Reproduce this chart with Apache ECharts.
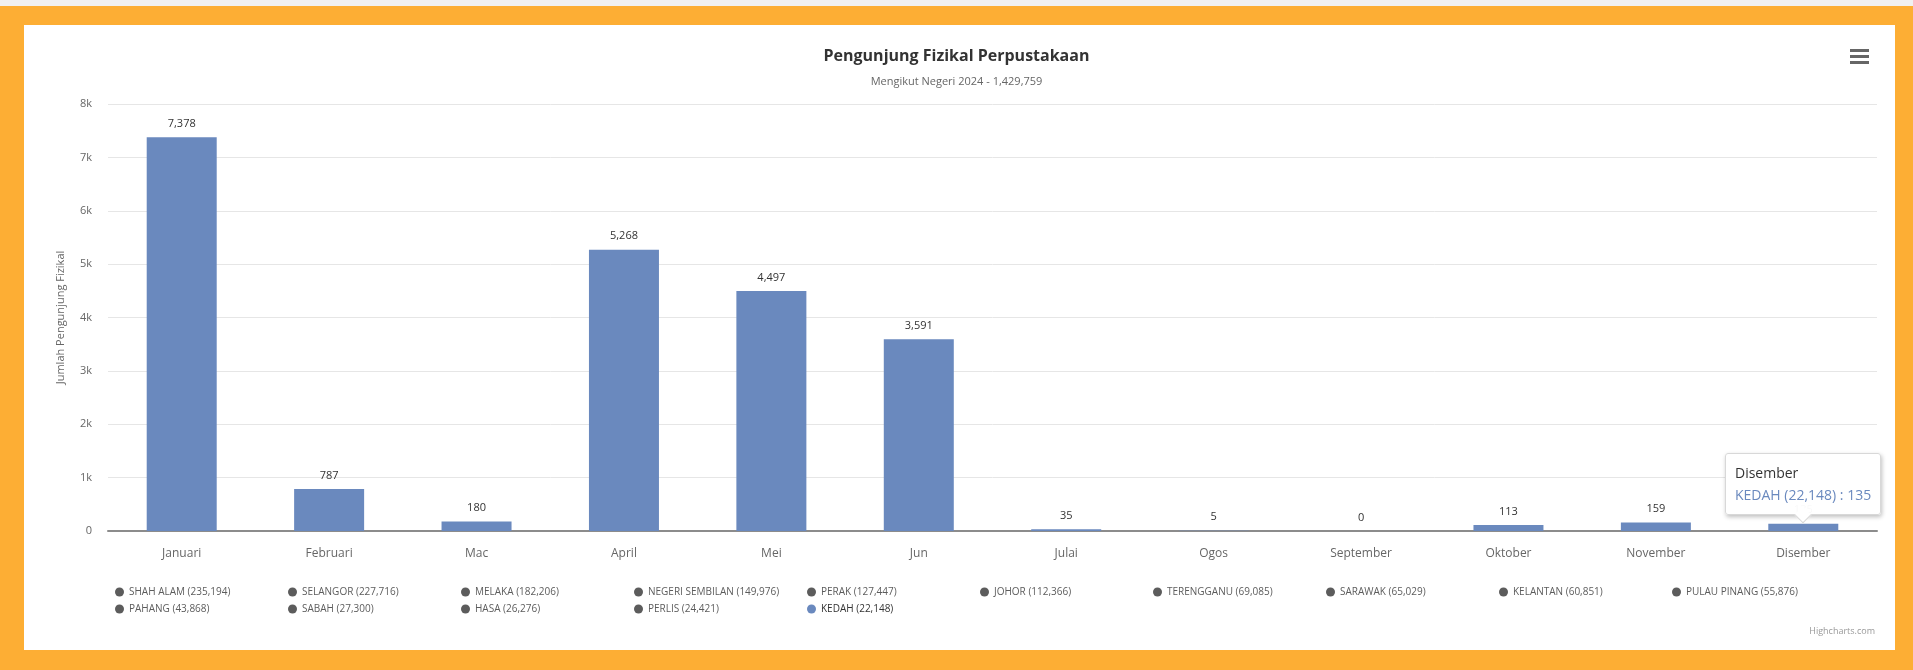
<!DOCTYPE html>
<html>
<head>
<meta charset="utf-8">
<script src="https://cdn.jsdelivr.net/npm/echarts@6/dist/echarts.min.js"></script>
<style>
  html, body { margin: 0; padding: 0; width: 1913px; height: 670px; overflow: hidden; background: #fdae34; }
  .strip { position: absolute; left: 0; top: 0; width: 1913px; height: 6px; background: #f1f1f1; }
  .panel { position: absolute; left: 24px; top: 25px; width: 1871px; height: 625px; background: #fff; }
  #chart { position: absolute; left: 0; top: 0; width: 1913px; height: 670px; }
</style>
</head>
<body>
<div class="strip"></div>
<div class="panel"></div>
<div id="chart"></div>
<script>
// data
const months = ['Januari', 'Februari', 'Mac', 'April', 'Mei', 'Jun', 'Julai', 'Ogos', 'September', 'Oktober', 'November', 'Disember']
const kedahValues = [7378, 787, 180, 5268, 4497, 3591, 35, 5, 0, 113, 159, 135]
const yTicks = [0, 1000, 2000, 3000, 4000, 5000, 6000, 7000, 8000]

// legend rows (state names with totals); only KEDAH is switched on
const legendRow1 = ['SHAH ALAM (235,194)', 'SELANGOR (227,716)', 'MELAKA (182,206)', 'NEGERI SEMBILAN (149,976)', 'PERAK (127,447)',
  'JOHOR (112,366)', 'TERENGGANU (69,085)', 'SARAWAK (65,029)', 'KELANTAN (60,851)', 'PULAU PINANG (55,876)']
const legendRow2 = ['PAHANG (43,868)', 'SABAH (27,300)', 'HASA (26,276)', 'PERLIS (24,421)', 'KEDAH (22,148)']
const activeSeries = 'KEDAH (22,148)'

const barColor = '#6a89be'
const fmt = v => v.toLocaleString('en-US')

const chart = echarts.init(document.getElementById('chart'))

const allNames = legendRow1.concat(legendRow2)
const series = allNames.map(name => ({
  name: name,
  type: 'bar',
  data: name === activeSeries ? kedahValues : [],
  barWidth: 70,
  itemStyle: { color: barColor },
  label: {
    show: true,
    position: 'top',
    distance: 8,
    fontSize: 11,
    color: '#333',
    fontFamily: 'Open Sans',
    formatter: p => fmt(p.value)
  }
}))

// one small legend per column so the columns line up like the original
const legends = legendRow1.map((n, i) => {
  const data = [n]
  if (legendRow2[i]) data.push(legendRow2[i])
  const selected = {}
  data.forEach(d => { selected[d] = d === activeSeries })
  return {
    orient: 'vertical',
    left: 110 + i * 173,
    top: 581,
    itemWidth: 9,
    itemHeight: 9,
    itemGap: 5,
    itemTextGap: 18,
    icon: 'circle',
    data: data,
    selected: selected,
    inactiveColor: '#5c5c5c',
    textStyle: { fontSize: 10, color: '#333', fontFamily: 'Open Sans', lineHeight: 12 }
  }
})

chart.setOption({
  animation: false,
  textStyle: { fontFamily: 'Open Sans' },
  title: [
    {
      text: 'Pengunjung Fizikal Perpustakaan',
      left: 'center',
      top: 43,
      textStyle: { fontSize: 16, fontWeight: 'bold', color: '#333', fontFamily: 'Open Sans' }
    },
    {
      text: 'Mengikut Negeri 2024 - 1,429,759',
      left: 'center',
      top: 71,
      textStyle: { fontSize: 11, fontWeight: 'normal', color: '#666', fontFamily: 'Open Sans' }
    }
  ],
  legend: legends,
  grid: { left: 108, right: 36, top: 104, bottom: 139, containLabel: false },
  xAxis: {
    type: 'category',
    data: months,
    axisLine: { lineStyle: { color: '#8c8c8c', width: 2 } },
    axisTick: { show: false },
    axisLabel: { color: '#666', fontSize: 12, margin: 17 }
  },
  yAxis: {
    type: 'value',
    min: yTicks[0],
    max: yTicks[yTicks.length - 1],
    interval: yTicks[1] - yTicks[0],
    name: 'Jumlah Pengunjung Fizikal',
    nameLocation: 'middle',
    nameGap: 42,
    nameTextStyle: { color: '#666', fontSize: 11 },
    axisLabel: { color: '#666', fontSize: 11, margin: 16, formatter: v => v === 0 ? '0' : v / 1000 + 'k' },
    splitLine: { lineStyle: { color: '#e6e6e6' } }
  },
  tooltip: {
    trigger: 'item',
    alwaysShowContent: true,
    transitionDuration: 0,
    backgroundColor: 'rgba(255,255,255,0.97)',
    borderColor: '#d8d8d8',
    borderWidth: 1,
    padding: [8, 9],
    extraCssText: 'box-shadow: 1px 2px 4px rgba(0,0,0,0.25); border-radius: 3px; overflow: visible;',
    textStyle: { fontSize: 14, fontFamily: 'Open Sans', color: '#333' },
    position: (point, params, dom, rect, size) => {
      const p = chart.convertToPixel({ gridIndex: 0 }, [params.dataIndex, params.value])
      return [p[0] - size.contentSize[0] / 2, p[1] - size.contentSize[1] - 9]
    },
    formatter: p => '<div style="line-height:22px">' + p.name + '<br>' +
      '<span style="color:' + barColor + '">' + p.seriesName + ' : ' + fmt(p.value) + '</span></div>' +
      '<div style="position:absolute;left:50%;bottom:-7px;width:11px;height:11px;margin-left:-6px;background:#fff;' +
      'border-right:1px solid #d8d8d8;border-bottom:1px solid #d8d8d8;transform:rotate(45deg);"></div>'
  },
  graphic: [
    { type: 'rect', shape: { x: 1850, y: 49, width: 19, height: 3 }, style: { fill: '#666' } },
    { type: 'rect', shape: { x: 1850, y: 55, width: 19, height: 3 }, style: { fill: '#666' } },
    { type: 'rect', shape: { x: 1850, y: 61, width: 19, height: 3 }, style: { fill: '#666' } },
    {
      type: 'text', right: 38, top: 627,
      style: { text: 'Highcharts.com', fill: '#999', fontSize: 9, fontFamily: 'Open Sans' }
    }
  ],
  series: series
})

chart.dispatchAction({ type: 'showTip', seriesIndex: allNames.indexOf(activeSeries), dataIndex: months.length - 1 })
</script>
</body>
</html>
